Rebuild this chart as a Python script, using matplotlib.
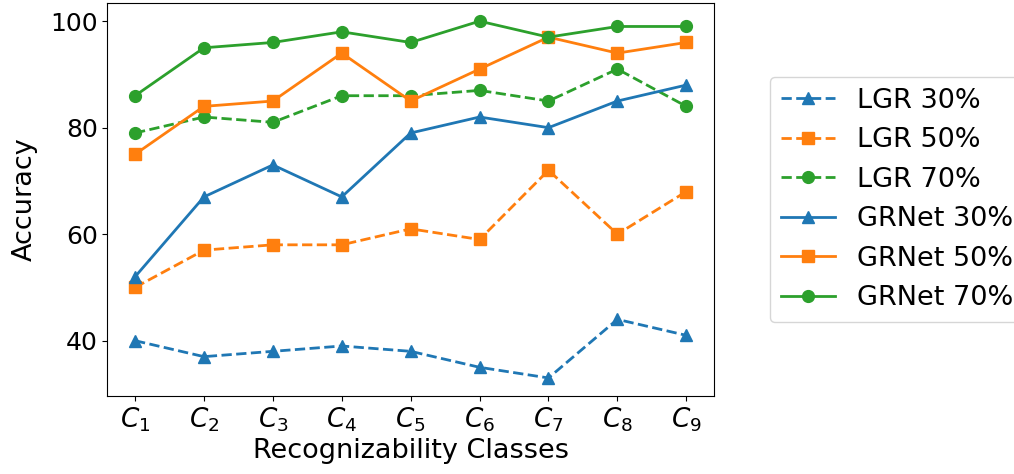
import numpy as np
import matplotlib.pyplot as plt

classes = ["$C_%d$" % i for i in range(1, 10)]
lgr_30 = [40, 37, 38, 39, 38, 35, 33, 44, 41]
lgr_50 = [50, 57, 58, 58, 61, 59, 72, 60, 68]
lgr_70 = [79, 82, 81, 86, 86, 87, 85, 91, 84]
grnet_30 = [52, 67, 73, 67, 79, 82, 80, 85, 88]
grnet_50 = [75, 84, 85, 94, 85, 91, 97, 94, 96]
grnet_70 = [86, 95, 96, 98, 96, 100, 97, 99, 99]

x = np.arange(len(classes))
fig, ax = plt.subplots(figsize=(10.14, 4.74), dpi=100)
fig.subplots_adjust(left=0.106, right=0.704, top=0.993, bottom=0.165)

ax.plot(x, lgr_30, '--^', color='C0', lw=2, ms=8.5, label='LGR 30%')
ax.plot(x, lgr_50, '--s', color='C1', lw=2, ms=8.5, label='LGR 50%')
ax.plot(x, lgr_70, '--o', color='C2', lw=2, ms=8.5, label='LGR 70%')
ax.plot(x, grnet_30, '-^', color='C0', lw=2, ms=8.5, label='GRNet 30%')
ax.plot(x, grnet_50, '-s', color='C1', lw=2, ms=8.5, label='GRNet 50%')
ax.plot(x, grnet_70, '-o', color='C2', lw=2, ms=8.5, label='GRNet 70%')

ax.set_xticks(x)
ax.set_xticklabels(classes, fontsize=19)
ax.set_yticks([40, 60, 80, 100])
ax.tick_params(axis='y', labelsize=18)
ax.set_xlabel('Recognizability Classes', fontsize=19.5, labelpad=3)
ax.set_ylabel('Accuracy', fontsize=19.5, labelpad=9)
ax.legend(loc='center left', bbox_to_anchor=(1.07, 0.5), fontsize=19.5)

fig.savefig('out.png', dpi=100)
